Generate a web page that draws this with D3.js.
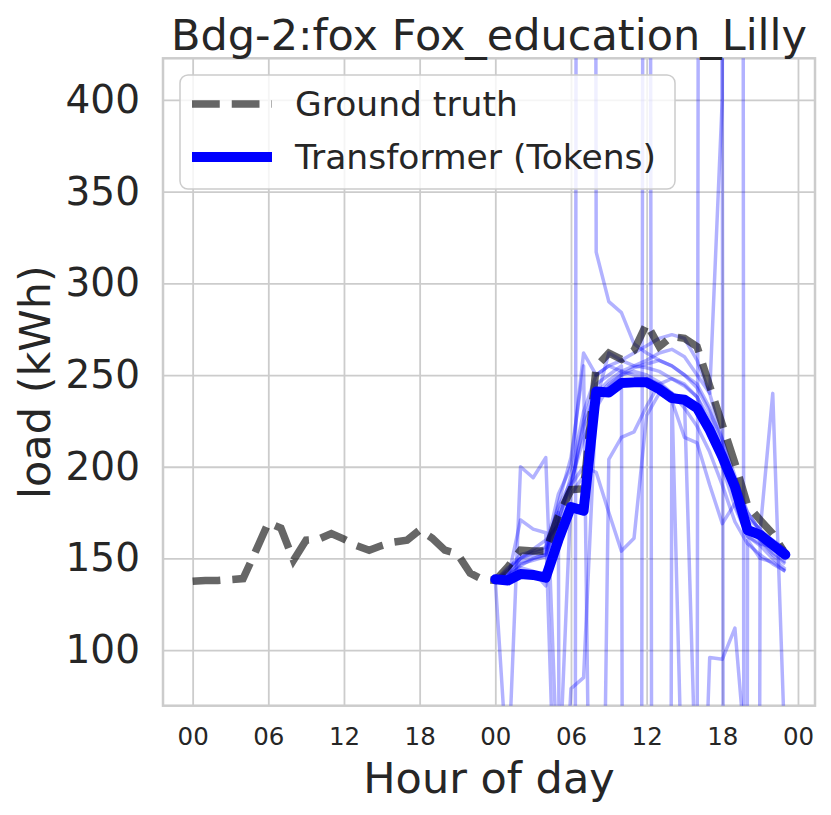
<!DOCTYPE html>
<html>
<head>
<meta charset="utf-8">
<script src="https://cdn.jsdelivr.net/npm/d3@7"></script>
<style>
  body { margin: 0; background: #fff; }
  text { font-family: "DejaVu Sans", sans-serif; fill: #262626; }
</style>
</head>
<body>
<div id="chart"></div>
<script>
// hours 0..47, forecast starts at hour 24
const hourTicks = [0, 6, 12, 18, 24, 30, 36, 42, 48];
const hourTickLabels = ["00", "06", "12", "18", "00", "06", "12", "18", "00"];
const loadTicks = [100, 150, 200, 250, 300, 350, 400];

const groundTruth = [
  137.5, 138, 138, 138.5, 139, 154, 169.5, 166.5, 149, 160, 160.5, 163.5,
  160.5, 157, 154.5, 157, 159, 160, 165.5, 161, 154.5, 152.5, 142, 138.5,
  138, 145.5, 154.5, 154, 154, 173, 187.5, 188, 254.5, 262, 258.5, 263.5,
  278, 265.5, 271, 270, 265.5, 244, 223, 202, 179, 171, 163.5, 152.5
];

const forecastStart = 24;

const transformerTokens = [
  138.6, 138, 141.5, 141, 139.5, 160, 178, 176, 241, 240.5, 245.6, 246,
  246, 242.3, 237.4, 236.5, 232, 220, 205.5, 189, 165.5, 162.8, 157.4, 152
];

// individual sampled forecasts (values far outside the axis leave the plot)
const tokenSamples = [
  [138, 30, 200, 194, 205, 20, 185, 195, 238, 245, 250, 252, 250, 246, 240, 232, 222, 208, 190, 170, 158, 152, 147, 143],
  [138, 139, 171, 166, 164, -50, 79, 85, 236, 262, 258, 255, 254, 252, 248, 244, 238, 226, 205, 185, 166, 160, 153, 148],
  [138, 142, 150, 152, 153, 175, -2400, 4660, 317, 290, 284, 267, 262, 258, 255, 250, 245, 232, 210, 190, 172, 166, 158, 152],
  [138, 140, 148, 150, 152, 180, 205, 255, -300, 204, 216, 219, 233, 245, 248, 245, 238, 222, 200, 178, 162, 157, 150, 144],
  [138, 141, 145, 143, 135, 175, 190, 200, 197, 175, 154, 161, 228, 240, 236, 216, 213, 190, 169, 180, 162, 158, 156, 150],
  [138, 143, 150, 155, 160, 168, 188, 225, 245, 250, 255, -3000, 2000, -3000, 240, -28, -100, 96, 95, 112, 30, -50, -60, -40],
  [138, 140, 146, 150, 152, 170, 195, 230, 250, 255, 252, 250, 248, 245, 240, 236, 4, 5000, 401, -5000, 160, 150, 148, 143],
  [138, 141, 147, 149, 151, 172, 190, 222, 240, 247, 252, 255, 258, 262, 264, 260, 250, 240, 401, 6247, -2578, 160, 152, 147],
  [138, 144, 152, 154, 156, 178, 192, 215, 232, 244, 250, 254, 256, 258, 255, 250, 243, 230, 215, 190, 175, 165, 240, 38],
  [138, 145, 150, 153, 155, 185, 200, 262, 250, 255, 258, 262, 266, 270, 272, 270, 258, 240, 215, 195, 175, 165, 160, 155]
];

const width = 831;
const height = 815;
const plot = { left: 163, right: 815, top: 58.3, bottom: 705.7 };

const svg = d3.select("#chart")
  .append("svg")
  .attr("width", width)
  .attr("height", height);

const x = d3.scaleLinear().domain([-2.35, 49.35]).range([plot.left, plot.right]);
const y = d3.scaleLinear().domain([69.7, 422.7]).range([plot.bottom, plot.top]);

svg.append("defs").append("clipPath")
  .attr("id", "plot-clip")
  .append("rect")
  .attr("x", plot.left)
  .attr("y", plot.top)
  .attr("width", plot.right - plot.left)
  .attr("height", plot.bottom - plot.top);

// axes double as the grid
const xAxis = svg.append("g")
  .attr("transform", `translate(0,${plot.bottom})`)
  .call(d3.axisBottom(x)
    .tickValues(hourTicks)
    .tickFormat((d, i) => hourTickLabels[i])
    .tickSize(-(plot.bottom - plot.top))
    .tickPadding(22));

const yAxis = svg.append("g")
  .attr("transform", `translate(${plot.left},0)`)
  .call(d3.axisLeft(y)
    .tickValues(loadTicks)
    .tickSize(-(plot.right - plot.left))
    .tickPadding(23));

[xAxis, yAxis].forEach(a => {
  a.select(".domain").remove();
  a.selectAll(".tick line").attr("stroke", "#cccccc").attr("stroke-width", 1.8);
  a.selectAll(".tick text").attr("fill", "#262626").style("font-family", "DejaVu Sans");
});
xAxis.selectAll(".tick text").style("font-size", "24.5px");
yAxis.selectAll(".tick text").style("font-size", "39px");

// frame
svg.append("rect")
  .attr("x", plot.left)
  .attr("y", plot.top)
  .attr("width", plot.right - plot.left)
  .attr("height", plot.bottom - plot.top)
  .attr("fill", "none")
  .attr("stroke", "#cccccc")
  .attr("stroke-width", 2.5);

const lines = svg.append("g").attr("clip-path", "url(#plot-clip)");

const forecastLine = d3.line()
  .x((d, i) => x(forecastStart + i))
  .y(d => y(d));

lines.selectAll("path.sample")
  .data(tokenSamples)
  .enter().append("path")
  .attr("class", "sample")
  .attr("d", forecastLine)
  .attr("fill", "none")
  .attr("stroke", "blue")
  .attr("stroke-opacity", 0.3)
  .attr("stroke-width", 3.5)
  .attr("stroke-linejoin", "round");

lines.append("path")
  .datum(groundTruth)
  .attr("d", d3.line().x((d, i) => x(i)).y(d => y(d)))
  .attr("fill", "none")
  .attr("stroke", "#000")
  .attr("stroke-opacity", 0.6)
  .attr("stroke-width", 7.5)
  .attr("stroke-dasharray", "27.75 12");

lines.append("path")
  .datum(transformerTokens)
  .attr("d", forecastLine)
  .attr("fill", "none")
  .attr("stroke", "blue")
  .attr("stroke-width", 10)
  .attr("stroke-linejoin", "round")
  .attr("stroke-linecap", "round");

// legend
const legend = svg.append("g");
legend.append("rect")
  .attr("x", 180).attr("y", 75)
  .attr("width", 495).attr("height", 114)
  .attr("rx", 8)
  .attr("fill", "#fff").attr("fill-opacity", 0.8)
  .attr("stroke", "#cccccc").attr("stroke-width", 1.5);

legend.append("line")
  .attr("x1", 192).attr("x2", 272).attr("y1", 104).attr("y2", 104)
  .attr("stroke", "#000").attr("stroke-opacity", 0.6)
  .attr("stroke-width", 7.5).attr("stroke-dasharray", "27.75 12");
legend.append("line")
  .attr("x1", 192).attr("x2", 272).attr("y1", 157).attr("y2", 157)
  .attr("stroke", "blue").attr("stroke-width", 10);

legend.append("text").attr("x", 295).attr("y", 116)
  .style("font-size", "34.5px").text("Ground truth");
legend.append("text").attr("x", 295).attr("y", 169)
  .style("font-size", "34.5px").text("Transformer (Tokens)");

// titles
svg.append("text")
  .attr("x", (plot.left + plot.right) / 2).attr("y", 50)
  .attr("text-anchor", "middle")
  .style("font-size", "43px")
  .text("Bdg-2:fox Fox_education_Lilly");

svg.append("text")
  .attr("x", (plot.left + plot.right) / 2).attr("y", 793)
  .attr("text-anchor", "middle")
  .style("font-size", "43px")
  .text("Hour of day");

svg.append("text")
  .attr("transform", `translate(50,${(plot.top + plot.bottom) / 2}) rotate(-90)`)
  .attr("text-anchor", "middle")
  .style("font-size", "43px")
  .text("load (kWh)");
</script>
</body>
</html>
